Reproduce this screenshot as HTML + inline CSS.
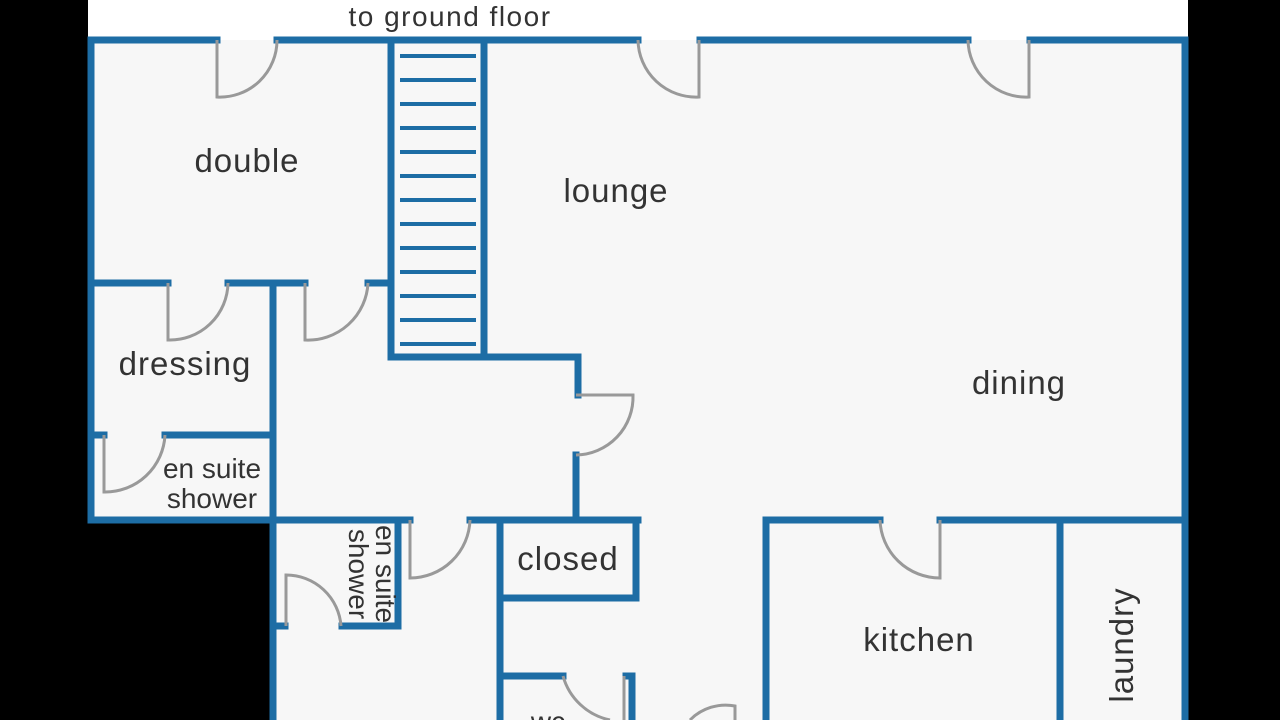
<!DOCTYPE html>
<html><head><meta charset="utf-8"><style>
html,body{margin:0;padding:0;background:#000;}
svg{display:block}
text{font-family:"Liberation Sans",sans-serif;fill:#333;}
</style></head><body>
<svg width="1280" height="720" viewBox="0 0 1280 720">
<rect x="0" y="0" width="1280" height="720" fill="#000"/>
<rect x="88" y="0" width="1100" height="40" fill="#fff"/>
<rect x="88" y="40" width="1100" height="480" fill="#f7f7f7"/>
<rect x="273" y="518" width="915" height="202" fill="#f7f7f7"/>
<text x="450" y="26" font-size="28" letter-spacing="1.5" text-anchor="middle">to ground floor</text>
<g stroke="#1d6da5" stroke-width="7" fill="none" stroke-linecap="square">
<path d="M91 40H217 M277 40H638 M700 40H968 M1030 40H1185"/>
<path d="M91 40V520 M1185 40V720"/>
<path d="M91 520H273"/>
<path d="M391 40V357H578V395 M576 455V520 M484 40V357"/>
<path d="M91 283H168 M228 283H305 M368 283H391"/>
<path d="M273 283V720"/>
<path d="M91 435H104 M165 435H273"/>
<path d="M273 520H410 M470 520H638 M766 520H880 M940 520H1185"/>
<path d="M766 520V720 M1060 520V720"/>
<path d="M500 520V720 M636 520V598 M500 598H636"/>
<path d="M500 676H563 M632 676V720 M626 676H632"/>
<path d="M398 520V626H342 M277 626H285"/>
</g>
<g stroke="#1d6da5" stroke-width="4" stroke-linecap="butt">
<path d="M400 56H476 M400 80H476 M400 104H476 M400 128H476 M400 152H476 M400 176H476 M400 200H476 M400 224H476 M400 248H476 M400 272H476 M400 296H476 M400 320H476 M400 344H476"/>
</g>
<g stroke="#999" stroke-width="3" fill="none">
<path d="M217 40V97 A57 57 0 0 0 277 40"/>
<path d="M699 40V97 A58 58 0 0 1 638 40"/>
<path d="M1029 40V97 A58 58 0 0 1 968 40"/>
<path d="M168 283V340 A58 58 0 0 0 228 283"/>
<path d="M305 283V340 A60 60 0 0 0 368 283"/>
<path d="M104 435V492 A60 60 0 0 0 165 435"/>
<path d="M410 520V578 A60 60 0 0 0 470 520"/>
<path d="M940 520V578 A60 60 0 0 1 880 520"/>
<path d="M576 395H633 A58 58 0 0 1 576 455"/>
<path d="M286 626V575 A55 55 0 0 1 341 626"/>
<path d="M563 676 A62 62 0 0 0 610 720"/>
<path d="M624 676V720"/>
<path d="M735 720V706 A50 50 0 0 0 690 720"/>
</g>
<g font-size="33" letter-spacing="1">
<text x="247" y="172" text-anchor="middle">double</text>
<text x="616" y="202" text-anchor="middle">lounge</text>
<text x="1019" y="394" text-anchor="middle">dining</text>
<text x="185" y="375" text-anchor="middle">dressing</text>
<text x="568" y="570" text-anchor="middle">closed</text>
<text x="919" y="651" text-anchor="middle">kitchen</text>
<text transform="translate(1133,645) rotate(-90)" text-anchor="middle">laundry</text>
</g>
<g font-size="28">
<text x="212" y="478" text-anchor="middle">en suite</text>
<text x="212" y="508" text-anchor="middle">shower</text>
<text transform="translate(376,574) rotate(90)" text-anchor="middle">en suite</text>
<text transform="translate(349,574) rotate(90)" text-anchor="middle">shower</text>
<text x="548" y="731" text-anchor="middle">wc</text>
</g>
</svg>
</body></html>
